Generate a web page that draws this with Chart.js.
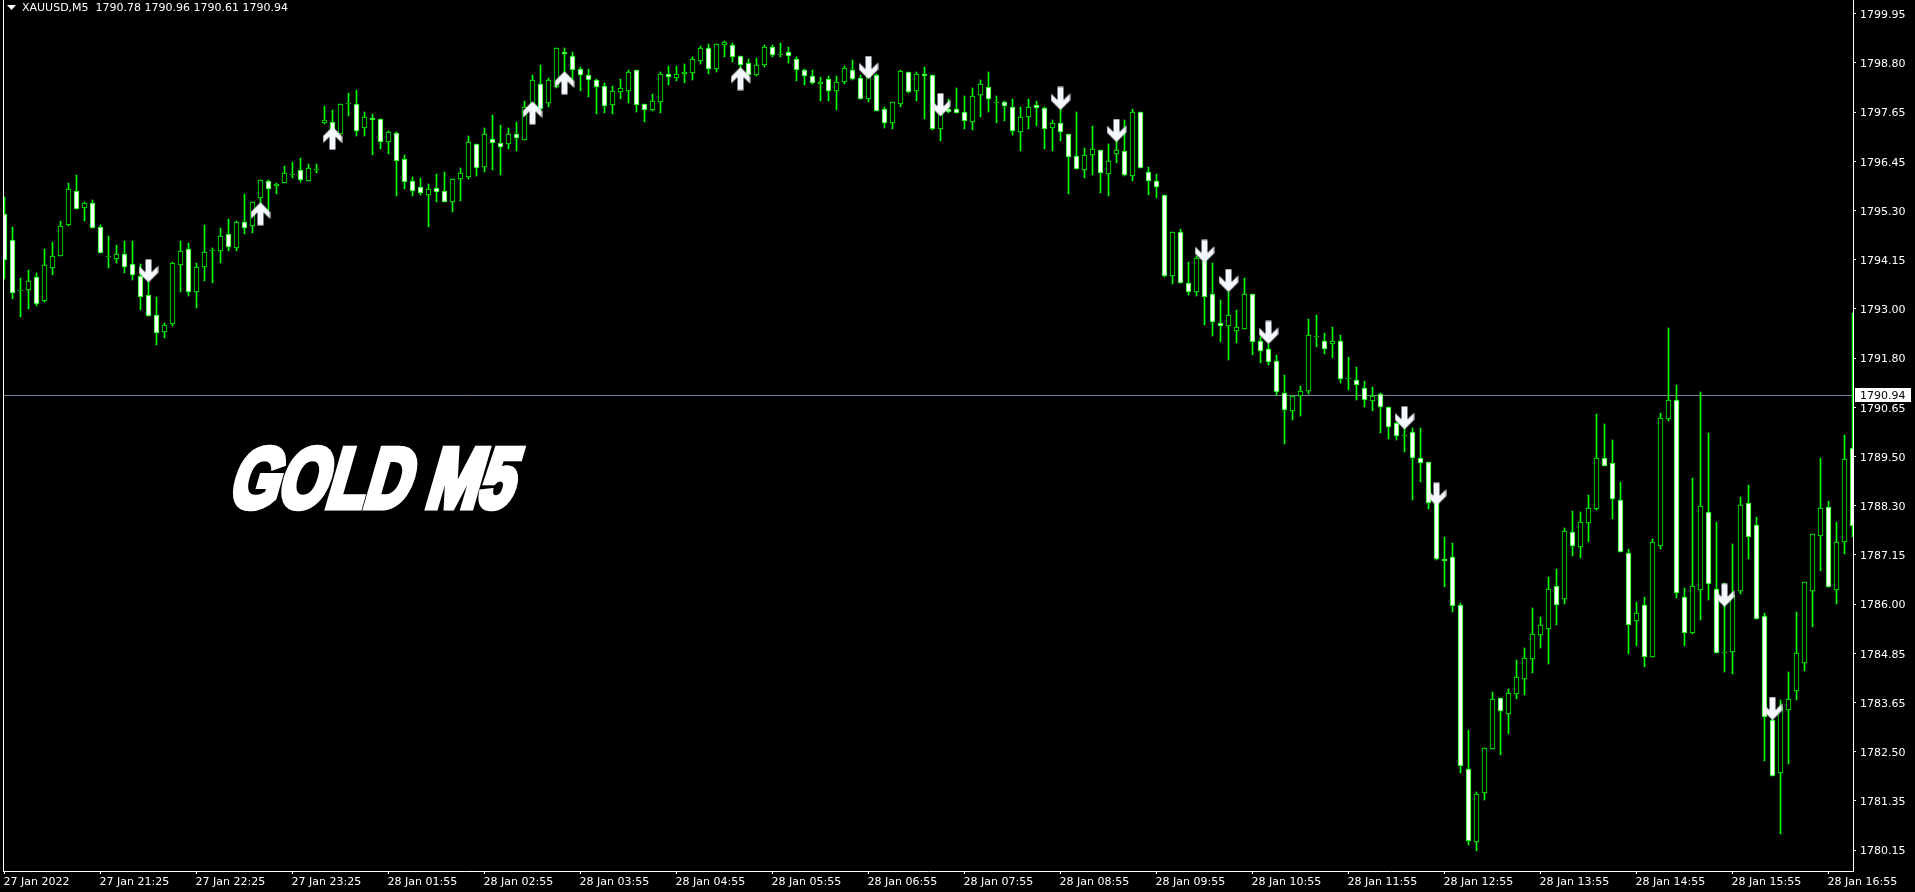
<!DOCTYPE html>
<html>
<head>
<meta charset="utf-8">
<title>XAUUSD M5</title>
<script src="https://cdn.jsdelivr.net/npm/chart.js@4/dist/chart.umd.js"></script>
<style>
  html, body { margin: 0; padding: 0; background: #000; overflow: hidden; }
  canvas { display: block; }
</style>
</head>
<body>
<canvas id="goldChart" width="1915" height="892"></canvas>
<script>
// Candles, oldest first, one every 5 minutes.
const opens = [
1795.23,1794.61,1793.43,1793.44,1793.74,1793.18,1793.96,1794.25,1794.98,1795.79,
1795.38,1795.49,1794.92,1794.24,1794.18,1794.28,1794.04,1793.77,1793.31,1792.84,
1792.43,1792.62,1794.02,1794.40,1793.40,1793.97,1794.38,1794.37,1794.77,1794.44,
1795.04,1794.96,1795.62,1796.02,1795.89,1795.96,1796.18,1796.28,1796.01,1796.31,
1797.38,1797.42,1797.14,1797.86,1797.85,1797.26,1797.50,1797.48,1796.95,1797.16,
1796.53,1796.01,1795.88,1795.69,1795.84,1795.79,1795.53,1796.07,1796.12,1796.88,
1796.35,1797.00,1796.91,1796.88,1797.12,1796.99,1797.70,1798.30,1797.87,1798.25,
1799.08,1798.97,1798.66,1798.52,1798.41,1798.26,1797.82,1798.13,1798.15,1798.64,
1797.83,1797.70,1797.89,1798.56,1798.46,1798.54,1798.58,1798.86,1799.16,1798.67,
1799.24,1799.23,1798.97,1798.80,1798.53,1798.75,1799.18,1799.02,1799.06,1798.90,
1798.64,1798.49,1798.32,1798.42,1798.15,1798.37,1798.64,1798.45,1797.96,1798.52,
1797.71,1797.38,1797.85,1798.59,1798.15,1798.54,1798.52,1797.24,1797.71,1797.71,
1797.66,1797.42,1798.04,1798.23,1797.88,1797.88,1797.76,1797.18,1797.54,1797.81,
1797.74,1797.26,1797.38,1797.14,1796.60,1796.28,1796.64,1796.74,1796.17,1796.66,
1796.72,1796.14,1797.64,1796.24,1796.01,1795.68,1793.77,1794.80,1793.61,1793.40,
1794.12,1793.33,1792.66,1792.59,1792.46,1792.52,1793.33,1792.22,1792.03,1791.75,
1790.99,1790.58,1790.92,1791.05,1792.35,1792.24,1792.15,1792.22,1791.35,1791.30,
1791.12,1790.82,1790.97,1790.66,1790.28,1790.00,1790.07,1789.45,1789.36,1788.39,
1787.08,1787.11,1785.97,1782.11,1780.38,1781.54,1782.58,1783.77,1783.41,1783.88,
1784.24,1784.71,1785.28,1785.42,1786.42,1786.13,1787.70,1787.36,1787.91,1788.26,
1789.45,1789.33,1788.46,1787.20,1785.59,1785.97,1784.76,1787.38,1790.39,1790.83,
1786.16,1785.32,1786.34,1788.17,1786.35,1784.86,1784.86,1786.31,1788.40,1787.88,
1785.73,1783.25,1782.00,1783.50,1783.95,1784.61,1786.31,1787.62,1788.30,1786.33,
1787.46,1789.69];
const highs = [
1795.64,1794.92,1793.71,1793.91,1793.83,1794.41,1794.57,1795.07,1795.97,1796.16,
1795.52,1795.57,1794.97,1794.71,1794.50,1794.59,1794.60,1794.04,1793.67,1793.26,
1792.65,1794.11,1794.59,1794.54,1794.07,1794.97,1794.43,1794.90,1795.11,1795.07,
1795.70,1795.53,1796.03,1796.03,1795.96,1796.37,1796.46,1796.56,1796.42,1796.42,
1797.78,1797.70,1797.85,1798.11,1798.17,1797.66,1797.60,1797.48,1797.19,1797.18,
1796.63,1796.10,1796.09,1795.94,1796.18,1796.22,1796.06,1796.32,1797.08,1796.88,
1797.27,1797.58,1797.33,1797.27,1797.41,1797.91,1798.52,1798.76,1798.45,1799.16,
1799.16,1799.08,1798.71,1798.66,1798.42,1798.33,1798.26,1798.42,1798.64,1798.64,
1797.85,1798.08,1798.60,1798.74,1798.74,1798.79,1798.95,1799.20,1799.26,1799.26,
1799.32,1799.28,1798.97,1798.90,1798.93,1799.23,1799.23,1799.28,1799.19,1798.95,
1798.66,1798.64,1798.48,1798.50,1798.50,1798.74,1798.88,1798.52,1798.60,1798.56,
1797.77,1797.89,1798.64,1798.60,1798.60,1798.71,1798.52,1798.05,1797.95,1798.22,
1798.03,1798.22,1798.40,1798.60,1798.03,1797.91,1797.95,1797.76,1797.95,1797.91,
1797.76,1797.46,1797.71,1797.14,1797.65,1796.80,1797.32,1796.74,1796.89,1796.99,
1797.46,1797.72,1797.64,1796.35,1796.17,1795.68,1794.80,1794.87,1794.10,1794.24,
1794.26,1794.07,1793.20,1793.40,1792.96,1793.72,1793.33,1792.33,1792.16,1791.90,
1791.42,1790.93,1791.16,1792.75,1792.84,1792.42,1792.56,1792.37,1791.85,1791.61,
1791.28,1791.14,1791.00,1790.66,1790.32,1790.16,1790.16,1790.16,1789.36,1788.70,
1787.59,1787.44,1786.02,1783.02,1781.55,1782.59,1783.92,1783.77,1783.99,1784.68,
1784.96,1785.91,1785.70,1786.64,1786.83,1787.80,1788.21,1788.18,1788.58,1790.50,
1790.26,1789.89,1788.89,1787.31,1786.05,1786.17,1787.54,1790.52,1792.54,1791.19,
1786.38,1788.99,1791.01,1790.05,1787.94,1786.49,1787.42,1788.53,1788.83,1788.07,
1785.79,1783.73,1783.72,1784.39,1785.81,1786.53,1787.67,1789.47,1788.45,1787.94,
1790.01,1792.88];
const lows = [
1793.69,1793.23,1792.80,1792.99,1793.06,1793.16,1793.79,1794.25,1794.96,1795.36,
1795.07,1794.91,1794.32,1793.96,1794.07,1793.84,1793.67,1792.96,1792.81,1792.14,
1792.30,1792.59,1793.39,1793.29,1793.01,1793.65,1793.60,1794.07,1794.37,1794.37,
1794.76,1794.79,1795.25,1795.33,1795.71,1795.96,1796.09,1796.00,1796.01,1796.21,
1797.36,1796.99,1797.13,1797.55,1797.08,1797.08,1796.62,1796.77,1796.65,1795.67,
1795.83,1795.66,1795.68,1794.93,1795.52,1795.53,1795.28,1795.54,1796.06,1796.13,
1796.23,1796.28,1796.16,1796.77,1796.73,1796.99,1797.62,1797.70,1797.77,1798.21,
1798.56,1798.41,1798.15,1798.00,1797.60,1797.63,1797.60,1797.96,1797.86,1797.65,
1797.41,1797.68,1797.63,1798.29,1798.38,1798.34,1798.41,1798.79,1798.55,1798.60,
1798.95,1798.83,1798.41,1798.49,1798.50,1798.71,1798.95,1798.94,1798.81,1798.38,
1798.29,1798.32,1797.91,1797.91,1797.70,1798.31,1798.41,1797.95,1797.89,1797.67,
1797.27,1797.25,1797.77,1798.10,1797.91,1797.48,1797.23,1796.96,1797.63,1797.63,
1797.25,1797.22,1797.53,1797.65,1797.39,1797.44,1797.10,1796.73,1797.25,1797.32,
1796.77,1796.73,1796.96,1795.71,1796.30,1796.09,1796.16,1795.73,1795.66,1796.44,
1796.14,1796.02,1796.33,1795.68,1795.61,1793.74,1793.58,1793.59,1793.32,1793.29,
1792.61,1792.35,1792.20,1791.78,1792.18,1792.52,1791.90,1791.71,1791.66,1790.94,
1789.79,1790.36,1790.45,1790.97,1792.09,1791.92,1791.83,1791.23,1791.07,1790.83,
1790.67,1790.57,1790.05,1789.91,1789.89,1789.60,1788.46,1788.89,1788.25,1787.04,
1786.41,1785.81,1782.01,1780.30,1780.16,1781.36,1782.58,1782.43,1782.93,1783.75,
1783.85,1784.37,1784.96,1784.58,1785.51,1786.00,1787.14,1787.09,1787.47,1788.24,
1789.28,1788.02,1787.24,1784.82,1785.01,1784.51,1784.76,1787.31,1790.34,1786.15,
1785.01,1785.29,1785.62,1786.10,1784.85,1784.39,1784.35,1786.23,1787.08,1785.66,
1782.29,1781.93,1780.57,1782.22,1783.73,1784.42,1785.47,1786.78,1786.40,1786.00,
1787.18,1787.60];
const closes = [
1794.15,1793.37,1793.43,1793.66,1793.11,1794.02,1794.23,1794.94,1795.82,1795.36,
1795.49,1794.91,1794.32,1794.24,1794.28,1793.99,1793.78,1793.26,1792.81,1792.41,
1792.60,1794.07,1794.37,1793.40,1793.97,1794.33,1794.38,1794.72,1794.45,1795.04,
1794.90,1795.53,1796.03,1795.82,1795.95,1796.20,1796.18,1796.03,1796.32,1796.31,
1797.47,1797.18,1797.85,1797.86,1797.19,1797.52,1797.45,1796.93,1797.17,1796.50,
1796.00,1795.79,1795.72,1795.82,1795.75,1795.53,1796.06,1796.20,1796.93,1796.33,
1797.12,1796.92,1796.83,1797.12,1797.04,1797.76,1798.40,1797.71,1798.40,1799.16,
1799.03,1798.65,1798.53,1798.41,1798.25,1797.78,1798.14,1798.21,1798.59,1797.82,
1797.70,1797.90,1798.56,1798.47,1798.56,1798.59,1798.90,1799.16,1798.67,1799.25,
1799.30,1798.96,1798.77,1798.53,1798.75,1799.18,1799.01,1799.02,1798.98,1798.65,
1798.51,1798.34,1798.37,1798.15,1798.35,1798.68,1798.44,1797.96,1798.49,1797.68,
1797.38,1797.88,1798.61,1798.13,1798.54,1798.49,1797.24,1797.66,1797.66,1797.63,
1797.43,1798.02,1798.30,1797.96,1797.88,1797.80,1797.19,1797.52,1797.76,1797.74,
1797.25,1797.38,1797.18,1796.58,1796.31,1796.62,1796.77,1796.21,1796.48,1796.74,
1796.15,1797.64,1796.33,1796.02,1795.88,1793.77,1794.80,1793.59,1793.40,1794.19,
1793.26,1792.69,1792.59,1792.84,1792.55,1793.33,1792.21,1792.00,1791.74,1791.03,
1790.60,1790.93,1791.04,1792.36,1792.35,1792.03,1792.22,1791.34,1791.35,1791.18,
1790.84,1790.92,1790.67,1790.19,1789.99,1790.00,1789.47,1789.33,1788.39,1787.06,
1787.03,1785.96,1782.16,1780.39,1781.50,1782.59,1783.75,1783.48,1783.89,1784.27,
1784.72,1785.29,1785.50,1786.35,1785.99,1787.72,1787.37,1787.94,1788.27,1789.45,
1789.28,1788.50,1787.24,1785.51,1785.78,1784.76,1787.46,1790.40,1790.83,1786.26,
1785.31,1786.42,1788.32,1786.47,1784.85,1784.86,1786.22,1788.35,1787.60,1785.66,
1783.32,1781.94,1783.56,1783.75,1784.84,1786.53,1787.67,1788.28,1786.40,1787.46,
1789.44,1787.85];

// Signal arrows: candle number and the price at the middle of the arrow.
const upArrowIndex = [32, 41, 66, 70, 92];
const upArrowPrice = [1795.24, 1797.03, 1797.63, 1798.34, 1798.44];
const downArrowIndex = [18, 108, 117, 132, 139, 150, 153, 158, 175, 179, 215, 221];
const downArrowPrice = [1793.89, 1798.70, 1797.82, 1797.97, 1797.21, 1794.35, 1793.66, 1792.43, 1790.41, 1788.60, 1786.21, 1783.53];

const lastPrice = 1790.94;
const headerText = 'XAUUSD,M5  1790.78 1790.96 1790.61 1790.94';
const watermark = 'GOLD M5';

// Time axis, one label every 12 candles.
const timeLabels = [
    '27 Jan 2022', '27 Jan 21:25', '27 Jan 22:25', '27 Jan 23:25',
    '28 Jan 01:55', '28 Jan 02:55', '28 Jan 03:55', '28 Jan 04:55',
    '28 Jan 05:55', '28 Jan 06:55', '28 Jan 07:55', '28 Jan 08:55',
    '28 Jan 09:55', '28 Jan 10:55', '28 Jan 11:55', '28 Jan 12:55',
    '28 Jan 13:55', '28 Jan 14:55', '28 Jan 15:55', '28 Jan 16:55',
];
const candlesPerLabel = 12;

// Price axis: the terminal prints a rounded label next to an unrounded level.
const priceLevels = [
    1799.976, 1798.81, 1797.647, 1796.482, 1795.318, 1794.153, 1792.989, 1791.824, 1790.66,
    1789.495, 1788.331, 1787.166, 1786.002, 1784.837, 1783.673, 1782.508, 1781.344, 1780.179,
];
const priceLabels = [
    '1799.95', '1798.80', '1797.65', '1796.45', '1795.30', '1794.15', '1793.00', '1791.80', '1790.65',
    '1789.50', '1788.30', '1787.15', '1786.00', '1784.85', '1783.65', '1782.50', '1781.35', '1780.15',
];

const xMin = -0.1875;
const xMax = 231.0625;
const yMax = 1800.30;
const yMin = 1779.684;

const GREEN = '#00ff00';
const TEXT_FONT = { family: '"DejaVu Sans"', size: 11 };

function makeArrow(pointsUp) {
    const c = document.createElement('canvas');
    c.width = 20;
    c.height = 24;
    const g = c.getContext('2d');
    const shape = [[-3, 0], [3, 0], [3, 13], [9.5, 6.5], [9.5, 13.5], [0, 23], [-9.5, 13.5], [-9.5, 6.5], [-3, 13]];
    g.fillStyle = '#f4f7fb';
    g.beginPath();
    shape.forEach(function (p, n) {
        const py = pointsUp ? 23.5 - p[1] : p[1] + 0.5;
        if (n === 0) g.moveTo(10 + p[0], py);
        else g.lineTo(10 + p[0], py);
    });
    g.closePath();
    g.fill();
    return c;
}

// Snap the bars to whole pixels, the original has no soft edges.
const snapBars = {
    id: 'snapBars',
    afterDatasetsUpdate(chart) {
        chart.data.datasets.forEach(function (ds, n) {
            if (ds.type !== 'bar') return;
            chart.getDatasetMeta(n).data.forEach(function (bar) {
                bar.y = Math.round(bar.y);
                bar.base = Math.round(bar.base);
                if (bar.y === bar.base) bar.base = bar.y + 1;
            });
        });
    },
};

// Left frame line, header, watermark and the last price tag.
const terminalText = {
    id: 'terminalText',
    afterDraw(chart) {
        const ctx = chart.ctx;
        const area = chart.chartArea;
        ctx.save();
        ctx.fillStyle = '#fff';
        ctx.fillRect(3, 0, 1, area.bottom);

        ctx.beginPath();
        ctx.moveTo(7, 5);
        ctx.lineTo(16, 5);
        ctx.lineTo(11.5, 10);
        ctx.closePath();
        ctx.fill();

        ctx.font = '11px "DejaVu Sans"';
        ctx.textBaseline = 'middle';
        ctx.textAlign = 'left';
        ctx.fillText(headerText, 22, 8);

        const py = Math.round(chart.scales.y.getPixelForValue(lastPrice) - 0.5);
        ctx.fillRect(1855, py - 7, 56, 14);
        ctx.fillStyle = '#000';
        ctx.fillText(lastPrice.toFixed(2), 1860, py + 1);

        ctx.fillStyle = '#fff';
        ctx.strokeStyle = '#fff';
        ctx.lineWidth = 7;
        ctx.lineJoin = 'miter';
        ctx.miterLimit = 2;
        ctx.textBaseline = 'alphabetic';
        ctx.font = 'bold 84px "Liberation Sans"';
        ctx.transform(0.74, 0, -0.29, 1, 227, 507);
        ctx.strokeText(watermark, 0, 0);
        ctx.fillText(watermark, 0, 0);
        ctx.restore();
    },
};

const goldChart = new Chart(document.getElementById('goldChart'), {
    type: 'bar',
    data: {
        datasets: [
            {
                type: 'line',
                order: 4,
                data: [{ x: xMin, y: lastPrice }, { x: xMax, y: lastPrice }],
                borderColor: '#778899',
                borderWidth: 1,
                pointRadius: 0,
            },
            {
                type: 'bar',
                order: 3,
                data: highs.map((h, i) => ({ x: i, y: [lows[i], h] })),
                backgroundColor: GREEN,
                borderWidth: 0,
                barThickness: 1,
                grouped: false,
            },
            {
                type: 'bar',
                order: 2,
                data: opens.map((o, i) => ({ x: i, y: [o, closes[i]] })),
                backgroundColor: opens.map((o, i) => (closes[i] < o ? '#fff' : '#000')),
                borderColor: GREEN,
                borderWidth: 1,
                borderSkipped: false,
                barThickness: 5,
                grouped: false,
            },
            {
                type: 'line',
                order: 1,
                showLine: false,
                data: upArrowIndex.map((x, n) => ({ x: x, y: upArrowPrice[n] })),
                pointStyle: makeArrow(true),
                pointRadius: 10,
            },
            {
                type: 'line',
                order: 1,
                showLine: false,
                data: downArrowIndex.map((x, n) => ({ x: x, y: downArrowPrice[n] })),
                pointStyle: makeArrow(false),
                pointRadius: 10,
            },
        ],
    },
    options: {
        responsive: false,
        animation: false,
        layout: { autoPadding: false, padding: { left: 3, top: 0, right: 0, bottom: 0 } },
        plugins: { legend: { display: false }, tooltip: { enabled: false }, title: { display: false } },
        scales: {
            x: {
                type: 'linear',
                offset: false,
                min: xMin,
                max: xMax,
                afterBuildTicks(scale) {
                    scale.ticks = timeLabels.map((t, k) => ({ value: k * candlesPerLabel }));
                },
                afterFit(scale) {
                    scale.height = 21;
                    scale.paddingLeft = 0;
                    scale.paddingRight = 0;
                },
                grid: { offset: false, drawOnChartArea: false, color: '#fff', tickLength: 3 },
                border: { color: '#fff' },
                ticks: {
                    autoSkip: false,
                    maxRotation: 0,
                    align: 'start',
                    labelOffset: -1,
                    padding: 2,
                    color: '#fff',
                    font: TEXT_FONT,
                    callback: (value, index) => timeLabels[index],
                },
            },
            y: {
                position: 'right',
                min: yMin,
                max: yMax,
                afterBuildTicks(scale) {
                    scale.ticks = priceLevels.map((v) => ({ value: v }));
                },
                afterFit(scale) {
                    scale.width = 62;
                    scale.paddingTop = 0;
                    scale.paddingBottom = 0;
                },
                grid: { drawOnChartArea: false, color: '#fff', tickLength: 3 },
                border: { color: '#fff' },
                ticks: {
                    autoSkip: false,
                    padding: 4,
                    labelOffset: 1.5,
                    color: '#fff',
                    font: TEXT_FONT,
                    callback: (value, index) => priceLabels[index],
                },
            },
        },
    },
    plugins: [snapBars, terminalText],
});
</script>
</body>
</html>
